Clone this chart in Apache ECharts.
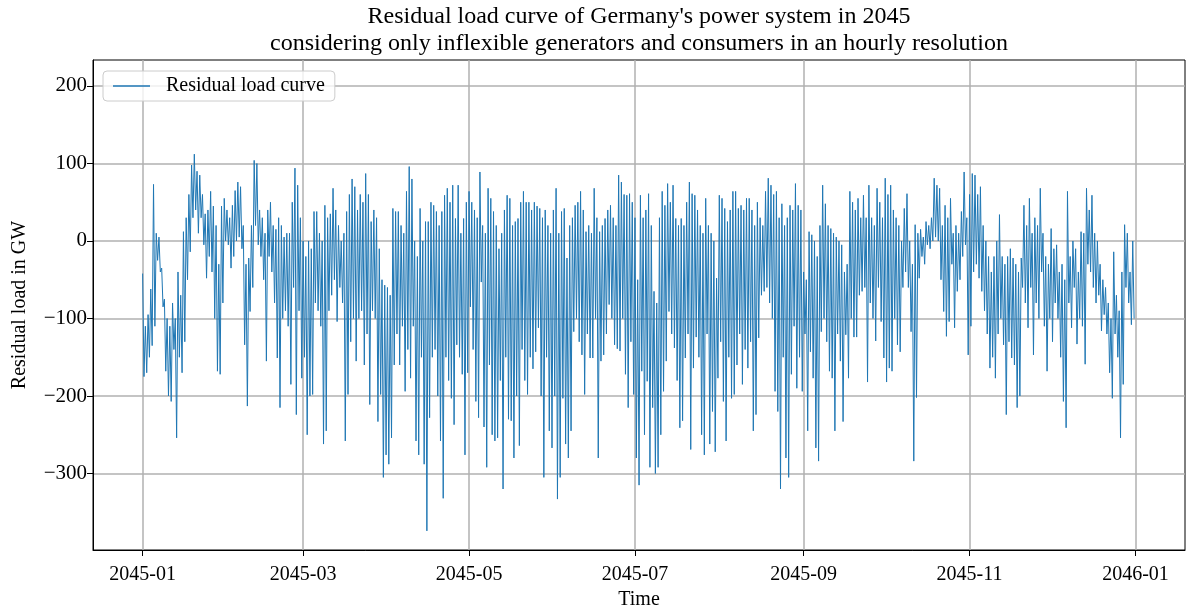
<!DOCTYPE html>
<html>
<head>
<meta charset="utf-8">
<script src="https://cdn.jsdelivr.net/npm/echarts@6/dist/echarts.min.js"></script>
<style>
  html, body { margin: 0; padding: 0; background: #ffffff; }
  #chart { width: 1188px; height: 612px; }
</style>
</head>
<body>
<div id="chart"></div>
<script>
// Daily evening/night peak of the residual load (GW), 2045-01-01 .. 2045-12-31
const dailyHigh = [
  // Jan
  -42, -110, -95, -62, 73, 10, 5, -35, -75, -100, -110, -80, -100, -40, -70, 12, 30, 60, 98, 112, 90, 85, 60, 35, 40, 64, 45, 20, -30, 45, 55,
  // Feb
  40, 30, 46, 65, 76, 70, 20, -30, -22, 20, 104, 100, 40, 30, 10, 40, 50, 20, 15, 30, 20, 5, 10, 10, 50, 94, 72, 30,
  // Mar
  0, -20, 0, -10, 38, 38, 10, 0, 46, 30, 35, 68, 40, 20, 0, 10, 38, 60, 80, 70, 40, 60, 50, 87, 60, 25, 40, 30, -10, -50, -57,
  // Apr
  -60, -70, 42, 38, 38, 20, 10, 64, 96, 80, 0, -20, 42, 0, 25, 25, 50, 46, 38, 20, 38, 59, 68, 50, 72, 29, 72, 10, 29, 50,
  // May
  64, 50, 40, 30, 89, 20, 10, 68, 55, 38, 20, -10, 10, 40, 59, 55, 20, 25, 29, 50, 64, 50, 50, 40, 50, 45, 42, 30, 40, 20, 10,
  // Jun
  40, 68, 10, 38, 42, -22, 20, 30, 46, 50, 64, 40, 12, 20, 10, 68, 30, 12, 20, 29, 40, 46, 30, 20, 85, 76, 60, 59, 61, 50,
  // Jul
  30, -50, 59, 30, 40, 61, 20, -65, -80, 30, 64, 46, 74, 50, 72, 29, 20, 29, 20, 50, 76, 61, 59, 40, 20, 10, 55, 20, 10, 0, -48,
  // Aug
  59, 55, 42, 25, 40, 64, 64, 42, 46, 40, 55, 55, 40, 20, 50, 30, 20, 64, 81, 72, 60, 64, 30, 48, 20, 30, 46, 40, 74, 46, 40,
  // Sep
  -40, -50, 12, 8, 0, -20, 20, 72, 48, 20, 16, 10, 5, 0, -5, -40, -30, 64, 50, 40, 55, 30, 59, 30, 72, 30, 20, 68, 50, 30,
  // Oct
  81, 60, 72, 40, 30, 20, 0, 42, 61, 0, -30, 21, 10, 15, 5, 25, 20, 30, 81, 72, 68, 20, 46, 30, 55, 10, 20, 10, 38, 89, 30,
  // Nov
  60, 87, 85, 60, 70, 20, 0, -20, -40, -20, 0, 34, -20, -30, -20, -10, -22, -30, -40, -22, 46, 20, 55, 10, 30, 20, 68, 10, -20, -30,
  // Dec
  16, -10, -5, -40, -30, -50, 64, -20, 0, -10, -40, 12, 10, 68, 40, 59, 10, 0, -30, -50, -60, -80, -100, -14, -70, -90, -40, 21, 10, -40, 0
];

// Daily midday trough of the residual load (GW)
const dailyLow = [
  // Jan
  -175, -170, -150, -135, -110, -25, -40, -85, -168, -200, -207, -140, -254, -150, -170, -130, -50, -14, 30, 40, 10, 30, -5, -48, -20, -40, -100, -168, -172, -80, 0,
  // Feb
  -5, -35, -20, 0, 5, -10, -134, -213, -91, -60, 20, -5, -20, -50, -155, -20, -40, -80, -151, -215, -100, -90, -110, -185, -60, -224, -90, -177,
  // Mar
  -150, -250, -200, -198, -80, -90, -110, -262, -245, -90, -70, -50, -104, -60, -80, -258, -198, -130, -100, -155, -100, -90, -160, -120, -211, -90, -100, -233, -198, -305, -276,
  // Apr
  -288, -254, -160, -120, -160, -110, -194, -140, -177, -110, -258, -276, -150, -288, -374, -228, -150, -140, -200, -258, -332, -150, -180, -203, -237, -134, -150, -172, -276, -170,
  // May
  -85, -140, -207, -228, -53, -240, -292, -160, -250, -258, -254, -180, -320, -150, -230, -232, -280, -200, -264, -140, -180, -198, -150, -165, -143, -112, -200, -305, -150, -245, -267,
  // Jun
  -200, -333, -305, -203, -262, -280, -245, -117, -100, -130, -147, -198, -120, -151, -151, -100, -280, -155, -147, -120, -82, -100, -134, -139, -142, -100, -172, -215, -130, -198,
  // Jul
  -280, -315, -168, -250, -181, -292, -215, -300, -292, -250, -194, -155, -91, -120, -138, -180, -241, -232, -151, -120, -269, -164, -124, -150, -250, -276, -120, -262, -220, -272, -177,
  // Aug
  -130, -207, -258, -150, -203, -198, -160, -120, -185, -140, -164, -130, -245, -224, -125, -70, -65, -60, -80, -100, -194, -220, -320, -150, -280, -305, -172, -110, -190, -150, -194,
  // Sep
  -120, -245, -143, -177, -267, -284, -117, -100, -130, -168, -177, -245, -120, -155, -233, -121, -177, -100, -124, -124, -70, -65, -60, -182, -80, -100, -129, -60, -104, -151,
  // Oct
  -182, -164, -168, -100, -134, -143, -60, -40, -60, -117, -284, -202, -48, -20, -30, -5, -10, 0, 5, 0, -50, -91, -123, -104, -30, -112, -65, -50, -20, -5, -147,
  // Nov
  -110, -40, -30, -48, -65, -90, -120, -164, -150, -177, -120, -100, -134, -224, -130, -151, -160, -215, -200, -60, -80, -112, -60, -147, -80, -100, -40, -110, -168, -100,
  // Dec
  -130, -80, -100, -150, -207, -241, -80, -112, -60, -133, -100, -110, -159, -30, -40, -60, -80, -70, -116, -95, -120, -170, -203, -120, -150, -254, -185, -60, -80, -108, -100
];

// Axis tick labels
const xTickLabels = ['2045-01', '2045-03', '2045-05', '2045-07', '2045-09', '2045-11', '2046-01'];
const yTickValues = [-300, -200, -100, 0, 100, 200];

const HOUR = 3600 * 1000;

// Two samples per day: night peak at 00:00, midday trough at 12:00
const seriesData = [];
for (let d = 0; d < dailyHigh.length; d++) {
  const dayStart = Date.UTC(2045, 0, 1 + d);
  seriesData.push([dayStart, dailyHigh[d]]);
  seriesData.push([dayStart + 12 * HOUR, dailyLow[d]]);
}

const xTickValues = xTickLabels.map(s => {
  const [y, m] = s.split('-').map(Number);
  return Date.UTC(y, m - 1, 1);
});

// Hourly data range with 5 % margins on both sides
const dataStart = Date.UTC(2045, 0, 1);
const dataEnd = Date.UTC(2045, 11, 31, 23);
const span = dataEnd - dataStart;
const xMin = dataStart - 0.05 * span;
const xMax = dataEnd + 0.05 * span;

const FONT = '"Liberation Serif", "DejaVu Serif", serif';

const chart = echarts.init(document.getElementById('chart'), null, { renderer: 'canvas' });

chart.setOption({
  backgroundColor: '#ffffff',
  animation: false,
  title: {
    text: "Residual load curve of Germany's power system in 2045\nconsidering only inflexible generators and consumers in an hourly resolution",
    left: 639,
    top: 3,
    padding: 0,
    textAlign: 'center',
    textStyle: {
      fontFamily: FONT,
      fontSize: 24,
      fontWeight: 'normal',
      color: '#000000',
      lineHeight: 27
    }
  },
  legend: {
    left: 103,
    top: 71,
    orient: 'vertical',
    padding: [5, 10, 5, 10],
    itemWidth: 37,
    itemHeight: 1.3,
    icon: 'rect',
    backgroundColor: 'rgba(255,255,255,0.8)',
    borderColor: '#cccccc',
    borderWidth: 1,
    borderRadius: 4,
    textStyle: {
      fontFamily: FONT,
      fontSize: 20,
      color: '#000000',
      padding: [0, 0, 0, 11]
    },
    data: [{ name: 'Residual load curve' }]
  },
  grid: {
    left: 93,
    right: 3,
    top: 60,
    bottom: 62,
    outerBoundsMode: 'none',
    containLabel: false,
    show: true,
    borderColor: '#000000',
    borderWidth: 1,
    backgroundColor: 'transparent'
  },
  xAxis: {
    type: 'value',
    min: xMin,
    max: xMax,
    name: 'Time',
    nameLocation: 'middle',
    nameGap: 39,
    nameTextStyle: { fontFamily: FONT, fontSize: 20, color: '#000000' },
    axisLine: { show: true, onZero: false, lineStyle: { color: '#000000', width: 1 } },
    axisTick: { show: true, length: 6, customValues: xTickValues, lineStyle: { color: '#000000' } },
    axisLabel: {
      customValues: xTickValues,
      margin: 15,
      fontFamily: FONT,
      fontSize: 20,
      color: '#000000',
      formatter: v => {
        const i = xTickValues.indexOf(v);
        return i >= 0 ? xTickLabels[i] : '';
      }
    },
    splitLine: { show: true, lineStyle: { color: '#b0b0b0', width: 1.5 } }
  },
  yAxis: {
    type: 'value',
    min: -398.7,
    max: 233.5,
    name: 'Residual load in GW',
    nameLocation: 'middle',
    nameGap: 63,
    nameTextStyle: { fontFamily: FONT, fontSize: 20, color: '#000000' },
    axisLine: { show: true, lineStyle: { color: '#000000', width: 1 } },
    axisTick: { show: true, length: 6, customValues: yTickValues, lineStyle: { color: '#000000' } },
    axisLabel: {
      customValues: yTickValues,
      margin: 6,
      fontFamily: FONT,
      fontSize: 21,
      color: '#000000',
      formatter: v => (v < 0 ? '\u2212' + Math.abs(v) : String(v))
    },
    splitLine: { show: true, lineStyle: { color: '#b0b0b0', width: 1.5 } }
  },
  series: [{
    name: 'Residual load curve',
    type: 'line',
    data: seriesData,
    showSymbol: false,
    symbol: 'none',
    sampling: null,
    lineStyle: { color: '#1f77b4', width: 1 },
    itemStyle: { color: '#1f77b4' }
  }]
});
</script>
</body>
</html>
